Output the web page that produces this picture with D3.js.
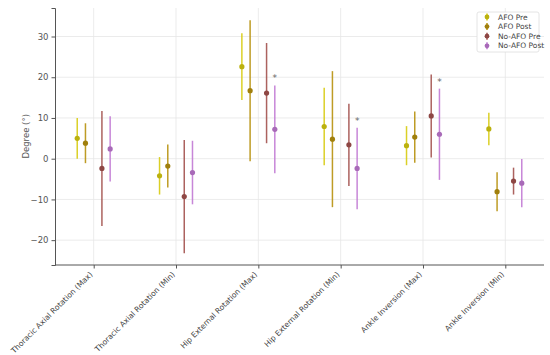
<!DOCTYPE html>
<html>
<head>
<meta charset="utf-8">
<script src="https://cdn.jsdelivr.net/npm/d3@7"></script>
<style>
  body { margin: 0; background: #fff; }
  text { font-family: "DejaVu Sans", sans-serif; }
</style>
</head>
<body>
<svg></svg>
<script>
var categories = [
    "Thoracic Axial Rotation (Max)",
    "Thoracic Axial Rotation (Min)",
    "Hip External Rotation (Max)",
    "Hip External Rotation (Min)",
    "Ankle Inversion (Max)",
    "Ankle Inversion (Min)"
];
var seriesNames = ["AFO Pre", "AFO Post", "No-AFO Pre", "No-AFO Post"];
var colors = ["#d8cc10", "#b8920e", "#a4524e", "#c27ad4"];
var offsets = [-0.2, -0.1, 0.1, 0.2];

var afoPreMean = [5.0, -4.2, 22.6, 7.9, 3.2, 7.3];
var afoPreErr = [5.0, 4.6, 8.2, 9.5, 4.8, 4.0];
var afoPostMean = [3.8, -1.8, 16.7, 4.8, 5.3, -8.1];
var afoPostErr = [4.9, 5.3, 17.3, 16.7, 6.3, 4.8];
var noAfoPreMean = [-2.4, -9.3, 16.1, 3.4, 10.5, -5.5];
var noAfoPreErr = [14.1, 13.9, 12.3, 10.1, 10.2, 3.3];
var noAfoPostMean = [2.4, -3.4, 7.2, -2.4, 6.0, -6.0];
var noAfoPostErr = [8.0, 7.8, 10.8, 10.0, 11.2, 5.9];
var stars = [null, null, 20.1, 9.7, 19.3, null];

var yTicks = [-20, -10, 0, 10, 20, 30];

var means = [afoPreMean, afoPostMean, noAfoPreMean, noAfoPostMean];
var errs = [afoPreErr, afoPostErr, noAfoPreErr, noAfoPostErr];

var margin = { top: 8, bottom: 90, left: 55, right: 6 };
var width = 550 - margin.left - margin.right;
var height = 355 - margin.top - margin.bottom;

const svg = d3.select("svg")
    .attr("width", 550)
    .attr("height", 355)
    .append("g")
    .attr("transform", `translate(${margin.left},${margin.top})`);

// categorical positions as numbers, like matplotlib
const x = d3.scaleLinear()
    .domain([-0.47, categories.length - 1 + 0.47])
    .range([0, width]);

const y = d3.scaleLinear()
    .domain([-26.1, 37.0])
    .range([height, 0]);

// grid
svg.append("g")
    .selectAll("line")
    .data(yTicks)
    .enter().append("line")
    .attr("x1", 0).attr("x2", width)
    .attr("y1", d => y(d)).attr("y2", d => y(d))
    .attr("stroke", "#e6e6e6")
    .attr("stroke-width", 0.8);

svg.append("g")
    .selectAll("line")
    .data(categories)
    .enter().append("line")
    .attr("x1", (d, i) => x(i)).attr("x2", (d, i) => x(i))
    .attr("y1", 0).attr("y2", height)
    .attr("stroke", "#e6e6e6")
    .attr("stroke-width", 0.8);

// axes
const yAxis = svg.append("g")
    .call(d3.axisLeft(y).tickValues(yTicks).tickSize(3.5).tickPadding(3)
        .tickFormat(d => d < 0 ? "\u2212" + Math.abs(d) : d));
yAxis.select(".domain").attr("stroke", "#555").attr("stroke-width", 1);
yAxis.selectAll(".tick line").attr("stroke", "#555");
yAxis.selectAll(".tick text").attr("fill", "#555").style("font-size", "8.5px")
    .style("font-family", "DejaVu Sans");

const xAxis = svg.append("g")
    .attr("transform", `translate(0,${height})`)
    .call(d3.axisBottom(x).tickValues(d3.range(categories.length))
        .tickSize(3.5).tickPadding(3).tickFormat(i => categories[i]));
xAxis.select(".domain").attr("stroke", "#555").attr("stroke-width", 1)
    .attr("d", `M0,0H${width}`);
xAxis.selectAll(".tick line").attr("stroke", "#555");
xAxis.selectAll(".tick text")
    .attr("fill", "#444")
    .style("font-size", "7.6px")
    .style("font-family", "DejaVu Sans")
    .style("text-anchor", "end")
    .attr("x", 0)
    .attr("y", 0)
    .attr("dy", "0.35em")
    .attr("transform", "translate(-3,8) rotate(-45)");

svg.append("text")
    .attr("transform", "rotate(-90)")
    .attr("x", -y(5.5))
    .attr("y", -26)
    .attr("text-anchor", "middle")
    .attr("fill", "#555")
    .style("font-size", "8.5px")
    .text("Degree  (\u00b0)");

// error bars
means.forEach((m, s) => {
    const g = svg.append("g");
    g.selectAll("line")
        .data(m)
        .enter().append("line")
        .attr("x1", (d, i) => x(i + offsets[s]))
        .attr("x2", (d, i) => x(i + offsets[s]))
        .attr("y1", (d, i) => y(d - errs[s][i]))
        .attr("y2", (d, i) => y(d + errs[s][i]))
        .attr("stroke", colors[s])
        .attr("stroke-width", 1.5)
        .attr("opacity", 0.9);
    g.selectAll("circle")
        .data(m)
        .enter().append("circle")
        .attr("cx", (d, i) => x(i + offsets[s]))
        .attr("cy", d => y(d))
        .attr("r", 2.6)
        .attr("fill", d3.color(colors[s]).darker(0.4));
});

// significance marks
svg.append("g")
    .selectAll("text")
    .data(stars)
    .enter().filter(d => d !== null).append("text")
    .attr("x", (d, i) => x(stars.indexOf(d) + offsets[3]))
    .attr("y", d => y(d) + 4.5)
    .attr("text-anchor", "middle")
    .attr("fill", "#666")
    .style("font-size", "9px")
    .text("*");

// legend
const legend = svg.append("g")
    .attr("transform", `translate(${477 - margin.left},${12 - margin.top})`);
legend.append("rect")
    .attr("width", 62)
    .attr("height", 40)
    .attr("rx", 2)
    .attr("fill", "#fff")
    .attr("stroke", "#ddd")
    .attr("stroke-width", 0.8);
seriesNames.forEach((name, s) => {
    const row = legend.append("g").attr("transform", `translate(10,${5 + s * 9.6})`);
    row.append("line")
        .attr("y1", -3.5).attr("y2", 3.5)
        .attr("stroke", colors[s])
        .attr("stroke-width", 1.5);
    row.append("circle")
        .attr("r", 2.4)
        .attr("fill", d3.color(colors[s]).darker(0.4));
    row.append("text")
        .attr("x", 11)
        .attr("dy", "0.35em")
        .attr("fill", "#444")
        .style("font-size", "7.5px")
        .text(name);
});
</script>
</body>
</html>
